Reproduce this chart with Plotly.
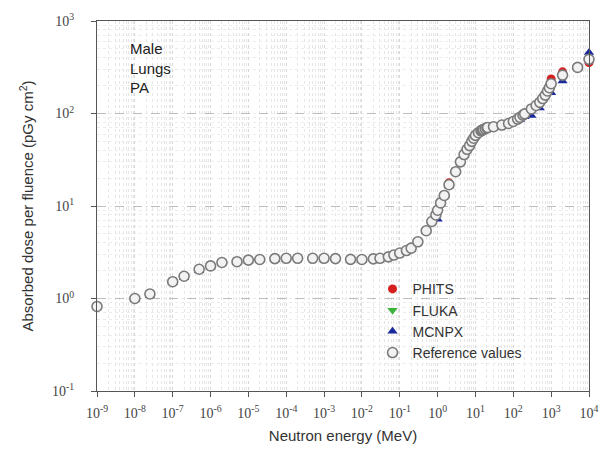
import plotly.graph_objects as go

# Reference values (ICRP-like energies, MeV) and absorbed dose per fluence (pGy cm^2)
ref_E = [1e-9, 1e-8, 2.5e-8, 1e-7, 2e-7, 5e-7, 1e-6, 2e-6, 5e-6, 1e-5, 2e-5, 5e-5,
         1e-4, 2e-4, 5e-4, 1e-3, 2e-3, 5e-3, 0.01, 0.02, 0.03, 0.05, 0.07, 0.1,
         0.15, 0.2, 0.3, 0.5, 0.7, 0.9, 1, 1.2, 1.5, 2, 3, 4, 5, 6, 7, 8, 9, 10,
         12, 14, 15, 16, 18, 20, 21, 30, 50, 75, 100, 130, 150, 180, 200, 300,
         400, 500, 600, 700, 800, 900, 1000, 2000, 5000, 10000]
ref_D = [0.82, 1.0, 1.12, 1.52, 1.74, 2.07, 2.25, 2.45, 2.5, 2.6, 2.64, 2.7,
         2.72, 2.72, 2.72, 2.72, 2.7, 2.65, 2.64, 2.68, 2.72, 2.82, 2.95, 3.1,
         3.3, 3.5, 4.1, 5.4, 6.8, 8.0, 9.0, 10.8, 13.0, 17.0, 23.5, 30, 36, 41, 45, 50, 54, 58,
         62, 65, 66, 67, 68.5, 70, 70.5, 72, 75, 78, 82, 87, 91, 96, 99, 112,
         122, 132, 145, 158, 175, 190, 210, 260, 315, 385]

phits_E = [1e-8, 1e-7, 1e-6, 1e-5, 1e-4, 1e-3, 0.01, 0.1, 0.5, 1, 2, 5, 10, 15, 20,
           50, 100, 200, 500, 1000, 2000, 10000]
phits_D = [1.0, 1.52, 2.25, 2.6, 2.72, 2.72, 2.64, 3.1, 5.4, 9.2, 17.8, 36, 59, 68, 72,
           75, 82, 99, 135, 236, 282, 355]

fluka_E = [20, 30, 50, 100, 150, 200, 300, 500, 1000, 2000, 5000, 10000]
fluka_D = [70, 72, 75, 82, 91, 99, 110, 130, 200, 255, 312, 380]

mcnpx_E = [1e-8, 2.5e-8, 1e-7, 2e-7, 5e-7, 1e-6, 5e-6, 1e-5, 5e-5, 1e-4, 1e-3, 5e-3,
           0.01, 0.1, 0.2, 0.5, 1, 2, 5, 10, 20, 50, 100, 150, 200, 300, 500,
           1000, 2000, 10000]
mcnpx_D = [0.98, 1.08, 1.48, 1.68, 2.0, 2.18, 2.45, 2.52, 2.64, 2.66, 2.66, 2.58,
           2.58, 3.05, 3.4, 5.3, 7.2, 16.5, 35, 57, 69, 74, 80, 86, 92, 95, 115,
           168, 224, 457]

x_tickvals = [10.0 ** k for k in range(-9, 5)]
x_ticktext = ["10<sup>%d</sup>" % k for k in range(-9, 5)]
y_tickvals = [10.0 ** k for k in range(-1, 4)]
y_ticktext = ["10<sup>%d</sup>" % k for k in range(-1, 4)]

fig = go.Figure()
fig.add_trace(go.Scatter(x=phits_E, y=phits_D, mode="markers", name="PHITS",
                         legendgroup="a",
                         marker=dict(symbol="circle", size=9, color="#d62020",
                                     line=dict(width=0)), cliponaxis=False))
fig.add_trace(go.Scatter(x=fluka_E, y=fluka_D, mode="markers", name="FLUKA",
                         legendgroup="b",
                         marker=dict(symbol="triangle-down", size=9, color="#3cb43c",
                                     line=dict(width=0)), cliponaxis=False))
fig.add_trace(go.Scatter(x=mcnpx_E, y=mcnpx_D, mode="markers", name="MCNPX",
                         legendgroup="c",
                         marker=dict(symbol="triangle-up", size=9, color="#1a2a9c",
                                     line=dict(width=0)), cliponaxis=False))
fig.add_trace(go.Scatter(x=ref_E, y=ref_D, mode="markers", name="Reference values",
                         legendgroup="d",
                         marker=dict(symbol="circle", size=10, color="#f2f2f2",
                                     line=dict(width=1.6, color="#7a7a7a")),
                         cliponaxis=False))

fig.add_annotation(x=0.063, y=0.955, xref="paper", yref="paper",
                   text="Male<br>Lungs<br>PA", showarrow=False, align="left",
                   xanchor="left", yanchor="top",
                   font=dict(family="Liberation Sans, Arial", size=15, color="#222"))

axis_common = dict(type="log", showline=True, linecolor="#555", linewidth=1.2,
                   mirror=True, ticks="outside", ticklen=5, tickcolor="#555",
                   tickfont=dict(family="Liberation Serif, Times New Roman", size=14,
                                 color="#444"),
                   zeroline=False)

fig.update_xaxes(**axis_common, range=[-9, 4], tickvals=x_tickvals, ticktext=x_ticktext,
                 ticklabelstandoff=4,
                 showgrid=True, gridcolor="#d8d8d8", griddash="dot", gridwidth=1,
                 minor=dict(dtick="D1", showgrid=True, gridcolor="#e6e6e6",
                            griddash="dot", ticks=""),
                 title=dict(text="Neutron energy (MeV)", standoff=10,
                            font=dict(family="Liberation Sans, Arial", size=15,
                                      color="#333")))
fig.update_yaxes(**axis_common, range=[-1, 3], tickvals=y_tickvals, ticktext=y_ticktext,
                 ticklabelstandoff=14,
                 showgrid=True, gridcolor="#bdbdbd", griddash="dash", gridwidth=1,
                 minor=dict(dtick="D1", showgrid=True, gridcolor="#ececec",
                            griddash="dot", ticks=""),
                 title=dict(text="Absorbed dose per fluence (pGy cm<sup>2</sup>)",
                            standoff=14,
                            font=dict(family="Liberation Sans, Arial", size=15,
                                      color="#333")))

fig.update_layout(
    width=613, height=452,
    margin=dict(l=97, r=24, t=11, b=60),
    paper_bgcolor="white", plot_bgcolor="white",
    showlegend=True,
    legend=dict(x=0.56, y=0.318, xanchor="left", yanchor="top",
                bgcolor="rgba(255,255,255,0)", tracegroupgap=0,
                font=dict(family="Liberation Sans, Arial", size=14, color="#333")),
)

fig.write_html("out.html")
